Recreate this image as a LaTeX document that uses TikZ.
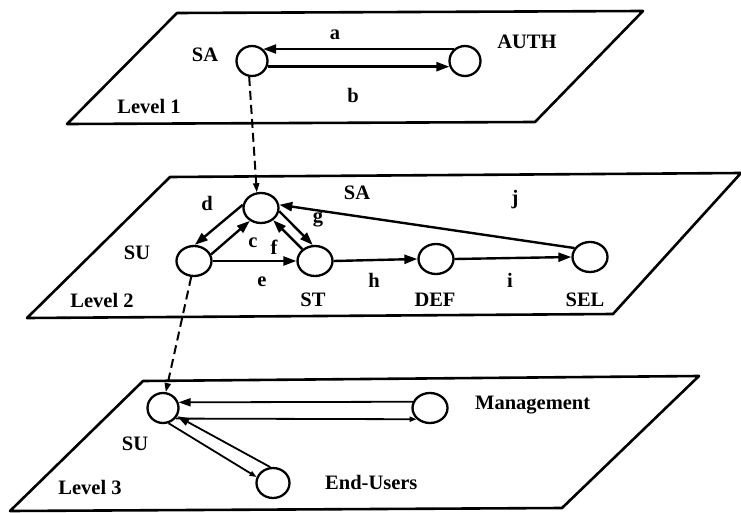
\documentclass[tikz,border=0pt]{standalone}
\usepackage{fontspec}
\setmainfont{Liberation Serif}
\usetikzlibrary{shapes.geometric,arrows.meta}
\begin{document}
\begin{tikzpicture}[x=1pt,y=-1pt,
  plane/.style={line width=2.6pt, line join=round},
  state/.style={ellipse, draw, line width=2.3pt, minimum width=35pt, minimum height=30pt, inner sep=0pt},
  txt/.style={font=\fontsize{20.5}{24}\selectfont\bfseries, inner sep=0pt},
  flow/.style={line width=2.4pt, -{Triangle[length=13pt,width=9pt]}},
  thinflow/.style={line width=1.8pt, -{Triangle[length=12pt,width=8pt]}},
  openflow/.style={line width=1.8pt, -{Triangle[open,length=7pt,width=5pt]}},
  refine/.style={line width=2pt, dash pattern=on 9pt off 5pt, -{Triangle[length=9pt,width=6pt]}}]
\useasboundingbox (0,0) rectangle (741,513);

% the three level planes
\draw[plane] (177,13) -- (643,11) -- (535,122) -- (67,124) -- cycle;
\draw[plane] (170,177) -- (741,173) -- (613,314) -- (27,318) -- cycle;
\draw[plane] (143,381) -- (699,376) -- (562,508) -- (10,511) -- cycle;

% Level 1
\node[state, minimum width=31pt] (sa1) at (252,61) {};
\node[state, minimum width=31pt] (auth) at (465,61) {};
\node[txt] (sa1lbl) at (205,55) {SA};
\node[txt] (authlbl) at (527,42) {AUTH};
\node[txt] (albl) at (335,35) {a};
\node[txt] (blbl) at (353,95) {b};
\node[txt] (lev1) at (149,106) {Level 1};
\draw[flow] (auth.133) -- (sa1.47);
\draw[flow] (sa1.340) -- (auth.200);

% Level 2
\node[state] (sa2) at (261,208) {};
\node[state] (su2) at (194,261) {};
\node[state] (st) at (315,261) {};
\node[state] (def) at (436,259) {};
\node[state] (sel) at (590,257) {};
\node[txt] (sa2lbl) at (357,193) {SA};
\node[txt] (su2lbl) at (137,253) {SU};
\node[txt] (stlbl) at (313,300) {ST};
\node[txt] (deflbl) at (435,300) {DEF};
\node[txt] (sellbl) at (585,300) {SEL};
\node[txt] (dlbl) at (207,203) {d};
\node[txt] (clbl) at (253,243) {c};
\node[txt] (flbl) at (274,247) {f};
\node[txt] (glbl) at (318,220) {g};
\node[txt] (elbl) at (262,282) {e};
\node[txt] (hlbl) at (374,280) {h};
\node[txt] (ilbl) at (510,280) {i};
\node[txt] (jlbl) at (515,200) {j};
\node[txt] (lev2) at (102,300) {Level 2};
\draw[flow] (sa2.170) -- (su2.87);
\draw[flow] (su2.21) -- (sa2.229);
\draw[flow] (su2.east) -- (st.west);
\draw[flow] (st.137) -- (sa2.315);
\draw[flow] (sa2.350) -- (st.98);
\draw[flow] (st.east) -- (def.west);
\draw[flow] (def.east) -- (sel.west);
\draw[flow] (sel.150) -- (sa2.10);

% Level 3
\node[state, minimum width=31pt] (su3) at (163,408) {};
\node[state] (mgt) at (430,408) {};
\node[state, minimum width=33pt] (eu) at (273,483) {};
\node[txt] (su3lbl) at (135,444) {SU};
\node[txt, anchor=west] (mgtlbl) at (475,405) {Management};
\node[txt, anchor=west] (eulbl) at (325,482) {End-Users};
\node[txt] (lev3) at (90,487) {Level 3};
\draw[thinflow] (mgt.160) -- (su3.20);
\draw[openflow] (su3.320) -- (mgt.220);
\draw[thinflow] (eu.100) -- (su3.330);
\draw[openflow] (su3.290) -- (eu.160);

% refinement links between levels
\draw[refine] (sa1.260) -- (sa2.105);
\draw[refine] (su2.260) -- (su3.80);
\end{tikzpicture}
\end{document}
